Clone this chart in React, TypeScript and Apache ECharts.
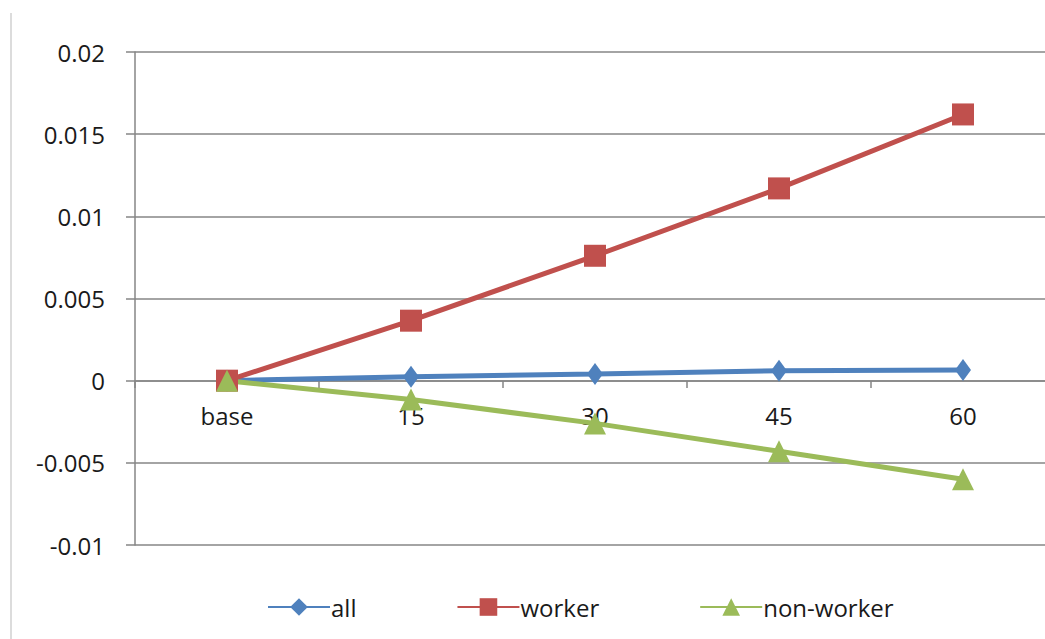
import React, { useEffect, useRef } from "react";
import * as echarts from "echarts";

const categories = ["base", "15", "30", "45", "60"];
const allValues = [0, 0.00024, 0.0004, 0.0006, 0.00065];
const workerValues = [0, 0.00365, 0.0076, 0.0117, 0.0162];
const nonWorkerValues = [0, -0.00115, -0.0026, -0.0043, -0.006];
const yMin = -0.01;
const yMax = 0.02;
const yInterval = 0.005;

const FONT = "'Open Sans', sans-serif";
const GRID = "#868686";

export default function App() {
  const ref = useRef<HTMLDivElement>(null);
  useEffect(() => {
    if (!ref.current) return;
    const chart = echarts.init(ref.current, null, { renderer: "svg" });
    const lineSeries = (name: string, data: number[], color: string, symbol: string, size: any) => ({
      name,
      type: "line",
      data,
      symbol,
      symbolSize: size,
      showSymbol: true,
      lineStyle: { color, width: 5 },
      itemStyle: { color },
      z: 3,
    });
    chart.setOption({
      animation: false,
      backgroundColor: "#ffffff",
      textStyle: { fontFamily: FONT },
      grid: { left: 135, top: 52, bottom: 94, right: 0, containLabel: false },
      xAxis: {
        type: "category",
        data: categories,
        boundaryGap: true,
        position: "bottom",
        offset: -164,
        axisLine: { onZero: false, lineStyle: { color: GRID, width: 1.5 } },
        axisTick: { show: true, alignWithLabel: false, length: 7, lineStyle: { color: GRID, width: 1.5 } },
        axisLabel: { color: "#1a1a1a", fontSize: 24, fontFamily: FONT, margin: 22 },
        splitLine: { show: false },
      },
      yAxis: {
        type: "value",
        min: yMin,
        max: yMax,
        interval: yInterval,
        axisLine: { show: true, lineStyle: { color: GRID, width: 1.5 } },
        axisTick: { show: true, length: 9, lineStyle: { color: GRID, width: 1.5 } },
        axisLabel: {
          color: "#1a1a1a",
          fontSize: 24,
          fontFamily: FONT,
          margin: 30,
          formatter: (v: number) => String(Number(v.toFixed(4))),
        },
        splitLine: { show: true, lineStyle: { color: GRID, width: 1.5 } },
      },
      legend: {
        left: 262,
        top: 590,
        itemWidth: 62,
        itemHeight: 22,
        itemGap: 100,
        textStyle: { color: "#1a1a1a", fontSize: 24, fontFamily: FONT, padding: [0, 0, 0, -4] },
        data: ["all", "worker", "non-worker"],
      },
      graphic: [
        {
          type: "line",
          shape: { x1: 11, y1: 13, x2: 11, y2: 639 },
          style: { stroke: "#d0d0d0", lineWidth: 1.5 },
        },
      ],
      series: [
        lineSeries("all", allValues, "#4F81BD", "diamond", [16, 22]),
        lineSeries("worker", workerValues, "#C0504D", "rect", 22),
        lineSeries("non-worker", nonWorkerValues, "#9BBB59", "triangle", 22),
      ],
    });
    return () => chart.dispose();
  }, []);
  return (
    <div style={{ position: "absolute", left: 0, top: 0, width: 1045, height: 639, overflow: "hidden" }}>
      <div ref={ref} style={{ width: 1055, height: 639 }} />
    </div>
  );
}
